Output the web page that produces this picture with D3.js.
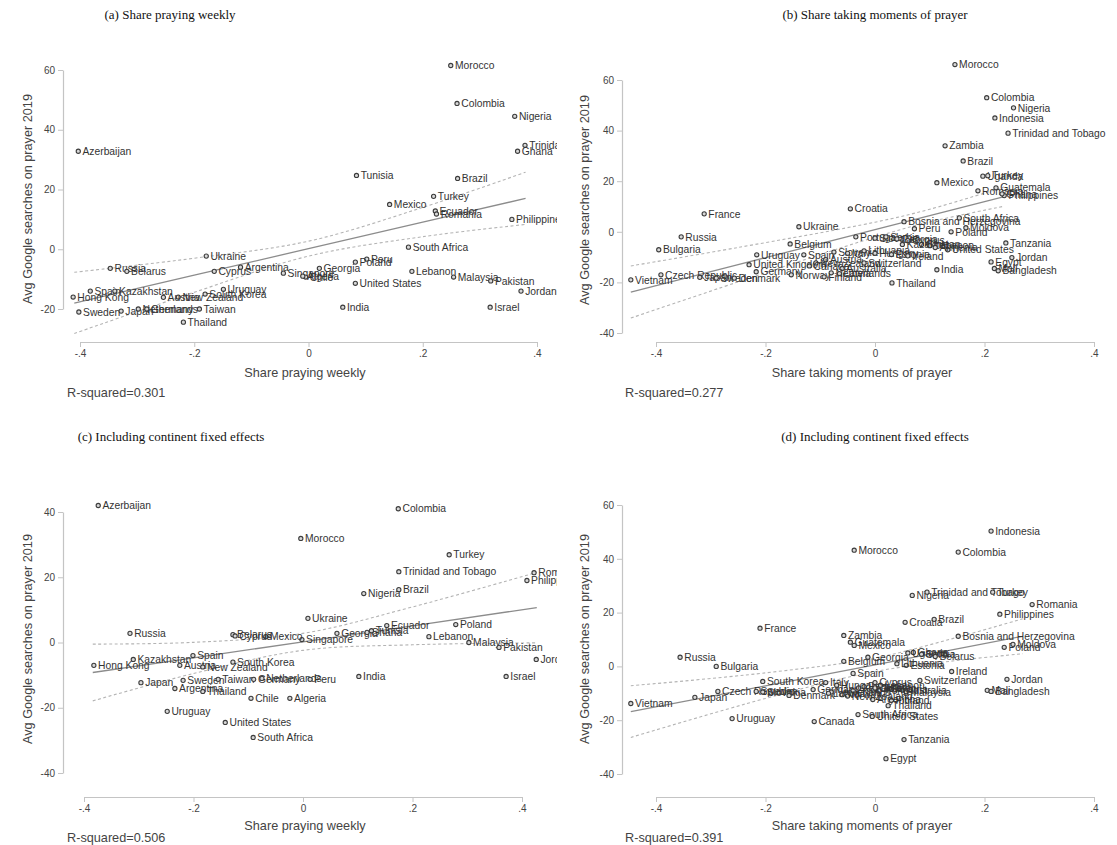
<!DOCTYPE html>
<html>
<head>
<meta charset="utf-8">
<script src="https://cdn.jsdelivr.net/npm/d3@7"></script>
<style>
  body { margin: 0; background: #fff; }
</style>
</head>
<body>
<div id="chart"></div>
<script>
// Each row: [country, x, y]
const weeklyA = [
  ["Azerbaijan", -0.403, 32.8], ["Morocco", 0.249, 61.5], ["Colombia", 0.260, 48.8],
  ["Nigeria", 0.361, 44.5], ["Trinidad and Tobago", 0.379, 34.8], ["Ghana", 0.366, 32.8],
  ["Tunisia", 0.084, 24.7], ["Brazil", 0.261, 23.7], ["Turkey", 0.219, 17.7],
  ["Mexico", 0.142, 15.0], ["Ecuador", 0.222, 12.8], ["Romania", 0.224, 11.8],
  ["Philippines", 0.356, 10.0], ["South Africa", 0.175, 0.7], ["Peru", 0.102, -3.3],
  ["Poland", 0.082, -4.3], ["Georgia", 0.019, -6.4], ["Singapore", -0.044, -8.0],
  ["Chile", -0.005, -9.3], ["Algeria", -0.010, -9.0], ["Lebanon", 0.181, -7.4],
  ["Malaysia", 0.254, -9.3], ["Pakistan", 0.319, -10.6], ["United States", 0.082, -11.4],
  ["Jordan", 0.372, -14.0], ["India", 0.060, -19.4], ["Israel", 0.318, -19.4],
  ["Ukraine", -0.179, -2.3], ["Russia", -0.347, -6.4], ["Belarus", -0.318, -7.4],
  ["Argentina", -0.119, -6.0], ["Cyprus", -0.165, -7.4], ["Spain", -0.382, -14.0],
  ["Kazakhstan", -0.339, -14.0], ["Hong Kong", -0.412, -16.0], ["Uruguay", -0.149, -13.4],
  ["South Korea", -0.181, -15.0], ["New Zealand", -0.228, -16.0], ["Austria", -0.254, -16.1],
  ["Sweden", -0.402, -21.0], ["Japan", -0.328, -20.7], ["Netherlands", -0.298, -20.0],
  ["Germany", -0.283, -20.0], ["Taiwan", -0.191, -20.0], ["Thailand", -0.219, -24.4]
];

const momentsB = [
  ["Morocco", 0.146, 66.1], ["Colombia", 0.204, 53.0], ["Nigeria", 0.253, 49.0],
  ["Indonesia", 0.219, 45.0], ["Trinidad and Tobago", 0.243, 39.0], ["Zambia", 0.128, 34.0],
  ["Brazil", 0.161, 28.0], ["Uganda", 0.197, 22.0], ["Turkey", 0.206, 22.2],
  ["Mexico", 0.113, 19.4], ["Romania", 0.188, 16.2], ["Guatemala", 0.221, 17.4],
  ["Philippines", 0.236, 14.3], ["Ghana", 0.232, 15.0], ["Croatia", -0.045, 9.1],
  ["Bosnia and Herzegovina", 0.053, 4.0], ["South Africa", 0.154, 5.5], ["Peru", 0.072, 1.2],
  ["Moldova", 0.166, 1.6], ["Poland", 0.139, 0.0], ["Tanzania", 0.239, -4.4],
  ["United States", 0.133, -7.1], ["Jordan", 0.250, -10.2], ["Egypt", 0.212, -11.9],
  ["Mali", 0.218, -14.5], ["Bangladesh", 0.225, -15.4], ["India", 0.113, -15.0],
  ["Thailand", 0.031, -20.2], ["France", -0.312, 7.1], ["Ukraine", -0.139, 2.0],
  ["Russia", -0.354, -2.0], ["Bulgaria", -0.395, -7.1], ["Belgium", -0.155, -4.8],
  ["Uruguay", -0.216, -9.1], ["Spain", -0.130, -9.1], ["United Kingdom", -0.230, -13.0],
  ["Germany", -0.217, -15.8], ["Norway", -0.153, -17.0], ["Finland", -0.093, -17.8],
  ["Czech Republic", -0.391, -17.0], ["Vietnam", -0.446, -19.0], ["Japan", -0.320, -18.0],
  ["Sweden", -0.290, -18.3], ["Denmark", -0.257, -18.3], ["Portugal", -0.035, -2.0],
  ["Slovakia", 0.000, -2.5], ["Serbia", 0.020, -2.0], ["Georgia", 0.040, -2.8],
  ["Cyprus", 0.060, -3.5], ["Chile", 0.085, -5.0], ["Lebanon", 0.100, -5.5],
  ["Kazakhstan", 0.050, -5.0], ["Armenia", 0.110, -6.2], ["Slovenia", -0.075, -8.0],
  ["Italy", -0.050, -8.5], ["Lithuania", -0.020, -7.5], ["Hungary", 0.000, -8.5],
  ["Estonia", 0.030, -9.0], ["Ireland", 0.060, -9.5], ["Austria", -0.090, -11.0],
  ["New Zealand", -0.108, -12.3], ["Switzerland", -0.020, -12.3], ["Canada", -0.120, -13.5],
  ["Australia", -0.060, -14.5], ["Netherlands", -0.080, -16.2], ["Latvia", -0.065, -16.5]
];

const weeklyC = [
  ["Azerbaijan", -0.374, 42.0], ["Colombia", 0.174, 41.0], ["Morocco", -0.004, 31.9],
  ["Turkey", 0.267, 26.9], ["Trinidad and Tobago", 0.175, 21.7], ["Romania", 0.422, 21.4],
  ["Philippines", 0.409, 19.0], ["Brazil", 0.175, 16.2], ["Nigeria", 0.111, 15.0],
  ["Ukraine", 0.009, 7.4], ["Ecuador", 0.153, 5.2], ["Poland", 0.279, 5.5],
  ["Georgia", 0.062, 2.8], ["Ghana", 0.117, 3.1], ["Tunisia", 0.125, 3.6],
  ["Singapore", -0.002, 0.9], ["Mexico", -0.068, 1.8], ["Belarus", -0.128, 2.4],
  ["Cyprus", -0.124, 2.0], ["Russia", -0.316, 2.8], ["Kazakhstan", -0.310, -5.2],
  ["Hong Kong", -0.382, -7.0], ["Spain", -0.201, -4.0], ["Austria", -0.225, -7.0],
  ["New Zealand", -0.183, -7.5], ["South Korea", -0.128, -6.0], ["Japan", -0.296, -12.3],
  ["Sweden", -0.219, -11.6], ["Argentina", -0.234, -14.1], ["Thailand", -0.183, -15.0],
  ["Taiwan", -0.155, -11.3], ["Germany", -0.090, -11.3], ["Netherlands", -0.075, -11.0],
  ["Chile", -0.095, -17.1], ["Uruguay", -0.248, -21.1], ["Peru", 0.013, -11.3],
  ["India", 0.102, -10.4], ["Algeria", -0.024, -17.1], ["United States", -0.142, -24.5],
  ["South Africa", -0.091, -29.1], ["Lebanon", 0.230, 1.8], ["Malaysia", 0.303, 0.0],
  ["Pakistan", 0.358, -1.5], ["Jordan", 0.426, -5.2], ["Israel", 0.371, -10.4]
];

const momentsD = [
  ["Indonesia", 0.212, 50.3], ["Morocco", -0.038, 43.2], ["Colombia", 0.152, 42.5],
  ["Nigeria", 0.068, 26.4], ["Trinidad and Tobago", 0.095, 27.6], ["Turkey", 0.215, 27.6],
  ["Romania", 0.287, 23.0], ["Philippines", 0.228, 19.4], ["Croatia", 0.055, 16.4],
  ["Brazil", 0.108, 17.5], ["France", -0.210, 14.2], ["Zambia", -0.057, 11.5],
  ["Guatemala", -0.045, 9.0], ["Mexico", -0.038, 7.8], ["Bosnia and Herzegovina", 0.152, 11.2],
  ["Poland", 0.236, 7.1], ["Moldova", 0.252, 8.2], ["Belgium", -0.057, 1.9],
  ["Georgia", -0.013, 3.4], ["Ghana", 0.070, 5.2], ["Uganda", 0.060, 5.0],
  ["Serbia", 0.085, 4.5], ["Belarus", 0.110, 3.7], ["Estonia", 0.057, 0.4],
  ["Lithuania", 0.040, 1.0], ["Ireland", 0.140, -1.9], ["Spain", -0.040, -2.6],
  ["Switzerland", 0.082, -5.2], ["Jordan", 0.241, -4.8], ["Mali", 0.205, -8.9],
  ["Bangladesh", 0.212, -9.3], ["Russia", -0.356, 3.4], ["Bulgaria", -0.290, 0.0],
  ["Vietnam", -0.446, -13.8], ["Japan", -0.329, -11.5], ["Czech Republic", -0.287, -9.3],
  ["Sweden", -0.217, -9.3], ["Slovakia", -0.205, -9.5], ["Denmark", -0.157, -10.8],
  ["South Korea", -0.205, -5.6], ["Germany", -0.113, -8.6], ["Uruguay", -0.261, -19.4],
  ["Canada", -0.111, -20.5], ["Austria", 0.030, -8.5], ["Australia", 0.050, -8.8],
  ["Malaysia", 0.057, -9.5], ["Argentina", -0.004, -12.3], ["Finland", 0.030, -12.6],
  ["Thailand", 0.024, -14.6], ["South Africa", -0.031, -17.9], ["United States", -0.005, -18.6],
  ["Tanzania", 0.053, -27.2], ["Egypt", 0.020, -34.3], ["Netherlands", -0.080, -9.5],
  ["Norway", -0.060, -10.5], ["Hong Kong", -0.040, -9.0], ["Kazakhstan", -0.030, -8.0],
  ["Portugal", -0.020, -7.5], ["Chile", 0.000, -8.0], ["Lebanon", 0.010, -7.0],
  ["New Zealand", -0.050, -11.0], ["Italy", -0.090, -6.0], ["Hungary", -0.070, -7.0],
  ["Latvia", -0.085, -10.0], ["Cyprus", 0.000, -6.0]
];

// Fitted line with 95% CI, each row: [x, lower, fit, upper]
const fitA = [[-0.41, -28.2, -18.0, -7.7], [-0.2, -14.4, -8.7, -3.0], [0, -2.3, 0.2, 2.7], [0.2, 4.2, 9.1, 14.0], [0.38, 8.3, 17.0, 25.8]];
const fitB = [[-0.446, -34.1, -23.8, -13.5], [-0.25, -19.8, -13.0, -6.2], [0, -2.1, 0.9, 3.8], [0.1, 3.9, 6.4, 8.9], [0.236, 10.1, 13.9, 17.7]];
const fitC = [[-0.384, -17.9, -9.2, -0.5], [-0.2, -9.5, -4.7, 0.05], [0, -2.4, 0.2, 2.8], [0.2, -0.7, 5.1, 10.9], [0.427, -0.1, 10.7, 21.5]];
const fitD = [[-0.446, -26.4, -16.8, -7.2], [-0.2, -11.9, -7.2, -2.4], [0, -1.9, 0.6, 3.15], [0.15, 2.2, 6.5, 10.8], [0.27, 4.7, 11.2, 17.7]];

const xTicks = [-0.4, -0.2, 0, 0.2, 0.4];
const yTicksA = [-20, 0, 20, 40, 60];
const yTicksB = [-40, -20, 0, 20, 40, 60];
const yTicksC = [-40, -20, 0, 20, 40];
const yTicksD = [-40, -20, 0, 20, 40, 60];

const panelTitles = ["(a) Share praying weekly", "(b) Share taking moments of prayer",
  "(c) Including continent fixed effects", "(d) Including continent fixed effects"];
const xTitles = ["Share praying weekly", "Share taking moments of prayer",
  "Share praying weekly", "Share taking moments of prayer"];
const yTitle = "Avg Google searches on prayer 2019";
const rSquared = ["0.301", "0.277", "0.506", "0.391"];

const sans = "'Liberation Sans', Arial, sans-serif";
const serif = "'Liberation Serif', 'Times New Roman', serif";

// pixel layout for the four panels
const layout = [
  { xl: 80, xr: 537, yb: 309, yt: 70, yAxisX: 63, xAxisY: 342, clipL: 0, clipR: 557,
    titleX: 170, titleY: 19, xTitleX: 305, xTitleY: 377, yTitleX: 28, yTitleY: 199, r2X: 67, r2Y: 397 },
  { xl: 656, xr: 1094, yb: 333, yt: 80, yAxisX: 622, xAxisY: 342, clipL: 566, clipR: 1117,
    titleX: 875, titleY: 19, xTitleX: 862, xTitleY: 377, yTitleX: 585, yTitleY: 200, r2X: 625, r2Y: 397 },
  { xl: 84, xr: 522, yb: 773, yt: 512, yAxisX: 63, xAxisY: 797, clipL: 0, clipR: 557,
    titleX: 171, titleY: 441, xTitleX: 305, xTitleY: 830, yTitleX: 28, yTitleY: 639, r2X: 67, r2Y: 842 },
  { xl: 656, xr: 1094, yb: 774, yt: 505, yAxisX: 622, xAxisY: 797, clipL: 566, clipR: 1117,
    titleX: 875, titleY: 441, xTitleX: 862, xTitleY: 830, yTitleX: 585, yTitleY: 639, r2X: 625, r2Y: 842 }
];

const panels = [
  { pts: weeklyA, fit: fitA, yTicks: yTicksA },
  { pts: momentsB, fit: fitB, yTicks: yTicksB },
  { pts: weeklyC, fit: fitC, yTicks: yTicksC },
  { pts: momentsD, fit: fitD, yTicks: yTicksD }
];

// Stata style tick labels: -.4, -.2, 0, .2, .4
const fmtX = t => t === 0 ? "0" : (t < 0 ? "-" : "") + String(Math.abs(t)).replace(/^0/, "");
const fmtY = t => String(t);

const svg = d3.select("#chart").append("svg")
  .attr("width", 1117)
  .attr("height", 845)
  .style("background", "#fff");

const defs = svg.append("defs");

panels.forEach((p, i) => {
  const L = layout[i];
  const yMin = d3.min(p.yTicks), yMax = d3.max(p.yTicks);
  const x = d3.scaleLinear().domain([-0.4, 0.4]).range([L.xl, L.xr]);
  const y = d3.scaleLinear().domain([yMin, yMax]).range([L.yb, L.yt]);

  defs.append("clipPath").attr("id", "clip" + i)
    .append("rect")
    .attr("x", L.clipL).attr("y", 0)
    .attr("width", L.clipR - L.clipL).attr("height", 845);

  const g = svg.append("g");

  // panel caption
  g.append("text")
    .attr("x", L.titleX).attr("y", L.titleY)
    .attr("text-anchor", "middle")
    .attr("font-family", serif)
    .attr("font-size", 13)
    .attr("fill", "#111")
    .text(panelTitles[i]);

  // axes
  const xAxis = g.append("g")
    .attr("transform", `translate(0,${L.xAxisY})`)
    .call(d3.axisBottom(x).tickValues(xTicks).tickFormat(fmtX).tickSize(5).tickSizeOuter(0).tickPadding(3));
  const yAxis = g.append("g")
    .attr("transform", `translate(${L.yAxisX},0)`)
    .call(d3.axisLeft(y).tickValues(p.yTicks).tickFormat(fmtY).tickSize(5).tickSizeOuter(0).tickPadding(3));
  [xAxis, yAxis].forEach(ax => {
    ax.select(".domain").attr("stroke", "#c4c4c4").attr("stroke-width", 1.2);
    ax.selectAll(".tick line").attr("stroke", "#c4c4c4");
    ax.selectAll(".tick text")
      .attr("font-family", sans).attr("font-size", 10).attr("fill", "#444");
  });

  // axis titles
  g.append("text")
    .attr("x", L.xTitleX).attr("y", L.xTitleY)
    .attr("text-anchor", "middle")
    .attr("font-family", sans).attr("font-size", 12.7).attr("fill", "#444")
    .text(xTitles[i]);
  g.append("text")
    .attr("transform", `translate(${L.yTitleX},${L.yTitleY}) rotate(-90)`)
    .attr("text-anchor", "middle")
    .attr("dominant-baseline", "central")
    .attr("font-family", sans).attr("font-size", 12.7).attr("fill", "#444")
    .text(yTitle);

  g.append("text")
    .attr("x", L.r2X).attr("y", L.r2Y)
    .attr("font-family", sans).attr("font-size", 12.7).attr("fill", "#444")
    .text("R-squared=" + rSquared[i]);

  const plot = g.append("g").attr("clip-path", `url(#clip${i})`);

  // confidence band edges (dashed) and fitted line
  const ciLine = k => d3.line().x(d => x(d[0])).y(d => y(d[k])).curve(d3.curveCatmullRom);
  [1, 3].forEach(k => {
    plot.append("path")
      .datum(p.fit)
      .attr("d", ciLine(k))
      .attr("fill", "none")
      .attr("stroke", "#b4b4b4")
      .attr("stroke-width", 1.1)
      .attr("stroke-dasharray", "3,2.5");
  });
  plot.append("path")
    .datum(p.fit)
    .attr("d", d3.line().x(d => x(d[0])).y(d => y(d[2])))
    .attr("fill", "none")
    .attr("stroke", "#8c8c8c")
    .attr("stroke-width", 1.3);

  // markers and labels
  const pts = plot.append("g").selectAll("g")
    .data(p.pts)
    .enter().append("g")
    .attr("transform", d => `translate(${x(d[1])},${y(d[2])})`);
  pts.append("circle")
    .attr("r", 2.1)
    .attr("fill", "#d8d8d8")
    .attr("stroke", "#3c3c3c")
    .attr("stroke-width", 1.1);
  pts.append("text")
    .attr("x", 4.2)
    .attr("dy", "0.36em")
    .attr("font-family", sans)
    .attr("font-size", 10.3)
    .attr("fill", "#333")
    .text(d => d[0]);
});
</script>
</body>
</html>
